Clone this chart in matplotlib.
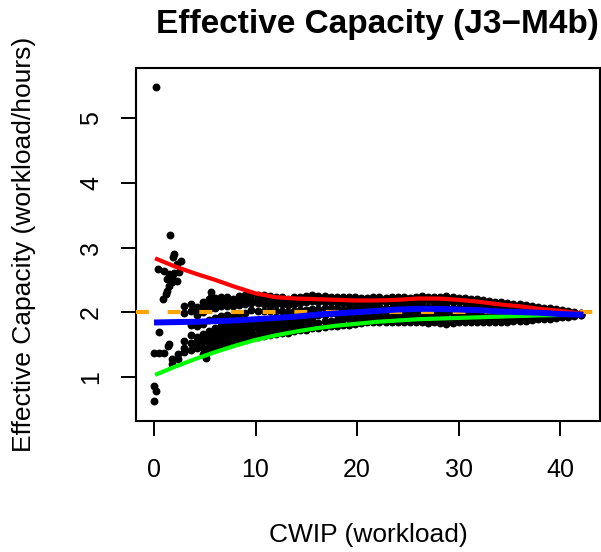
"""
Effective capacity of J3-M4b against CWIP, with the smoothed
upper / mean / lower curves and the nominal capacity line at 2.
"""

import numpy as np
import matplotlib
matplotlib.use("Agg")
import matplotlib.pyplot as plt

nan = np.nan

# ---------------------------------------------------------------------------
# Data
# ---------------------------------------------------------------------------

# sparse points near the start of the run
start_x = [0.2, 1.57, 2.0, 1.9, 2.65, 2.3, 0.36, 1.0, 1.5, 1.8, 2.3, 1.3,
           1.5, 1.8, 1.3, 1.2, 0.85, 2.5, 2.0, 5.6, 5.65, 0.52, 0.03, 0.52,
           1.0, 1.5, 1.4, 0.03, 0.2, 0.03, 5.1, 4.9]
start_y = [5.49, 3.19, 2.90, 2.85, 2.79, 2.74, 2.66, 2.64, 2.59, 2.54, 2.48, 2.51,
           2.41, 2.46, 2.33, 2.28, 2.21, 2.62, 2.60, 2.31, 2.23, 1.69, 1.37, 1.37,
           1.37, 1.50, 1.47, 0.86, 0.78, 0.63, 1.29, 1.33]

# the dense band, sampled along x in six strands (top -> bottom)
band_x = [1.8, 2.4, 3.0, 3.6, 4.2, 4.8, 5.4, 6.0, 6.6, 7.2,
          7.8, 8.4, 9.0, 9.6, 10.2, 10.8, 11.4, 12.0, 12.6, 13.2,
          13.8, 14.4, 15.0, 15.6, 16.2, 16.8, 17.4, 18.0, 18.6, 19.2,
          19.8, 20.4, 21.0, 21.6, 22.2, 22.8, 23.4, 24.0, 24.6, 25.2,
          25.8, 26.4, 27.0, 27.6, 28.2, 28.8, 29.4, 30.0, 30.6, 31.2,
          31.8, 32.4, 33.0, 33.6, 34.2, 34.8, 35.4, 36.0, 36.6, 37.2,
          37.8, 38.4, 39.0, 39.6, 40.2, 40.8, 41.4, 42.0]

band_1 = [nan, nan, 2.10, 2.12, 2.08, 2.15, 2.20, 2.22, 2.24, 2.23,
          2.21, 2.25, 2.27, 2.28, 2.27, 2.26, 2.25, 2.24, 2.23, 2.21,
          2.23, 2.24, 2.25, 2.26, 2.25, 2.25, 2.24, 2.24, 2.23, 2.23,
          2.24, 2.22, 2.22, 2.23, 2.24, 2.22, 2.23, 2.24, 2.23, 2.22,
          2.24, 2.25, 2.24, 2.23, 2.24, 2.25, 2.23, 2.22, 2.22, 2.21,
          2.20, 2.19, 2.17, 2.16, 2.15, 2.14, 2.13, 2.12, 2.11, 2.10,
          2.08, 2.07, 2.06, 2.05, 2.03, 2.02, 2.00, 1.99]
band_2 = [nan, nan, 1.98, 2.02, 1.95, 2.00, 2.05, 2.07, 2.09, 2.09,
          2.09, 2.11, 2.13, 2.14, 2.14, 2.13, 2.10, 2.12, 2.12, 2.11,
          2.12, 2.14, 2.15, 2.17, 2.15, 2.15, 2.15, 2.15, 2.14, 2.14,
          2.15, 2.14, 2.14, 2.15, 2.15, 2.15, 2.15, 2.13, 2.15, 2.15,
          2.16, 2.16, 2.18, 2.16, 2.16, 2.16, 2.15, 2.15, 2.15, 2.14,
          2.13, 2.12, 2.11, 2.10, 2.09, 2.08, 2.08, 2.07, 2.06, 2.06,
          2.04, 2.04, 2.03, 2.02, 2.01, 2.00, 1.99, 1.98]
band_3 = [nan, nan, nan, 1.80, 1.78, 1.82, 1.88, 1.91, 1.94, 1.95,
          1.95, 1.97, 1.99, 2.03, 2.01, 2.01, 2.01, 2.01, 2.01, 2.00,
          2.02, 2.03, 2.04, 2.05, 2.05, 2.06, 2.06, 2.06, 2.03, 2.06,
          2.07, 2.06, 2.07, 2.08, 2.08, 2.07, 2.07, 2.08, 2.07, 2.08,
          2.08, 2.08, 2.08, 2.08, 2.08, 2.10, 2.07, 2.07, 2.07, 2.07,
          2.06, 2.05, 2.04, 2.03, 2.03, 2.02, 2.02, 2.02, 2.01, 2.01,
          2.00, 2.00, 2.00, 1.99, 1.99, 1.98, 1.98, 1.97]
band_4 = [nan, nan, 1.55, 1.65, 1.62, 1.66, 1.70, 1.76, 1.78, 1.80,
          1.82, 1.84, 1.86, 1.87, 1.88, 1.85, 1.89, 1.89, 1.89, 1.90,
          1.91, 1.93, 1.94, 1.95, 1.96, 1.96, 1.99, 1.97, 1.97, 1.97,
          1.98, 1.99, 1.99, 2.00, 1.97, 2.00, 2.00, 2.00, 2.00, 2.00,
          2.01, 2.00, 1.99, 2.00, 1.99, 1.99, 1.99, 2.00, 2.00, 1.99,
          1.98, 1.99, 1.98, 1.97, 1.97, 1.97, 1.97, 1.96, 1.97, 1.97,
          1.97, 1.97, 1.96, 1.97, 1.96, 1.97, 1.96, 1.97]
band_5 = [1.27, 1.35, 1.45, 1.52, 1.50, 1.55, 1.52, 1.60, 1.63, 1.66,
          1.68, 1.70, 1.69, 1.73, 1.75, 1.76, 1.77, 1.78, 1.78, 1.79,
          1.81, 1.82, 1.83, 1.85, 1.83, 1.87, 1.87, 1.88, 1.89, 1.89,
          1.90, 1.91, 1.92, 1.93, 1.93, 1.92, 1.92, 1.92, 1.92, 1.93,
          1.93, 1.92, 1.91, 1.92, 1.91, 1.90, 1.88, 1.92, 1.92, 1.92,
          1.91, 1.92, 1.91, 1.90, 1.91, 1.91, 1.91, 1.91, 1.92, 1.92,
          1.93, 1.93, 1.93, 1.94, 1.94, 1.95, 1.95, 1.96]
band_6 = [1.20, 1.28, 1.38, 1.42, 1.44, 1.35, 1.40, 1.45, 1.48, 1.52,
          1.55, 1.56, 1.58, 1.60, 1.62, 1.63, 1.65, 1.66, 1.67, 1.68,
          1.70, 1.72, 1.73, 1.75, 1.76, 1.77, 1.78, 1.79, 1.80, 1.80,
          1.82, 1.83, 1.84, 1.85, 1.85, 1.85, 1.84, 1.84, 1.84, 1.85,
          1.85, 1.84, 1.83, 1.84, 1.83, 1.82, 1.83, 1.85, 1.85, 1.85,
          1.84, 1.85, 1.85, 1.84, 1.85, 1.85, 1.86, 1.86, 1.87, 1.88,
          1.89, 1.90, 1.90, 1.91, 1.92, 1.93, 1.94, 1.95]

# extra points where the band is widest (x ~ 4 to 16)
wide_x = [4.2, 4.8, 5.4, 6.0, 6.6, 7.2, 7.8, 8.4, 9.0, 9.6,
          10.2, 10.8, 11.4, 12.0, 12.6, 13.2, 13.8, 14.4, 15.0, 15.6]
wide_a = [2.02, 2.08, 2.13, 2.15, 2.17, 2.16, 2.15, 2.18, 2.20, 2.21,
          2.21, 2.20, 2.18, 2.18, 2.18, 2.16, 2.18, 2.19, 2.20, 2.22]
wide_b = [1.56, 1.60, 1.61, 1.68, 1.71, 1.74, 1.75, 1.78, 1.77, 1.80,
          1.82, 1.81, 1.83, 1.84, 1.83, 1.85, 1.86, 1.88, 1.88, 1.90]
wide_c = [1.47, 1.45, 1.46, 1.53, 1.56, 1.59, 1.61, 1.63, 1.64, 1.66,
          1.68, 1.70, 1.71, 1.71, 1.73, 1.74, 1.76, 1.77, 1.78, 1.80]

# smoothed curves
curve_x = [0.3, 2, 4, 6, 8, 10, 12, 14, 16, 18, 20, 22,
           24, 26, 28, 30, 32, 34, 36, 38, 40, 42]
upper_y = [2.82, 2.71, 2.60, 2.50, 2.39, 2.29, 2.23, 2.21, 2.20, 2.19, 2.18, 2.18,
           2.19, 2.21, 2.21, 2.19, 2.16, 2.12, 2.09, 2.05, 2.02, 1.98]
mean_y  = [1.84, 1.845, 1.85, 1.86, 1.87, 1.89, 1.91, 1.93, 1.96, 1.98, 2.00, 2.02,
           2.04, 2.05, 2.05, 2.04, 2.03, 2.01, 2.00, 1.99, 1.97, 1.96]
lower_y = [1.04, 1.15, 1.27, 1.38, 1.48, 1.57, 1.64, 1.70, 1.75, 1.79, 1.82, 1.85,
           1.87, 1.89, 1.90, 1.91, 1.92, 1.93, 1.94, 1.95, 1.955, 1.96]

NOMINAL = 2.0

x_ticks = [0, 10, 20, 30, 40]
y_ticks = [1, 2, 3, 4, 5]

# ---------------------------------------------------------------------------
# Plot
# ---------------------------------------------------------------------------

plt.rcParams["font.family"] = ["Liberation Sans", "DejaVu Sans"]

W, H = 601, 552
fig = plt.figure(figsize=(W / 100, H / 100), dpi=100)
ax = fig.add_axes([136 / W, 1 - 420.7 / H, (600 - 136) / W, (420.7 - 68.3) / H])

DOT = 32
for ys in [band_1, band_2, band_3, band_4, band_5, band_6]:
    ax.scatter(band_x, ys, s=DOT, color="black", linewidths=0, zorder=2)
for ys in [wide_a, wide_b, wide_c]:
    ax.scatter(wide_x, ys, s=DOT, color="black", linewidths=0, zorder=2)
ax.scatter(start_x, start_y, s=DOT, color="black", linewidths=0, zorder=2)

ax.axhline(NOMINAL, color="#FFA500", lw=3, linestyle=(0, (3.1, 4.5)), zorder=3)
ax.plot(curve_x, upper_y, color="#FF0000", lw=3, zorder=4)
ax.plot(curve_x, lower_y, color="#00FF00", lw=3, zorder=4)
ax.plot(curve_x, mean_y, color="#0000FF", lw=4.3, zorder=5)

ax.set_xlim(-1.77, 43.92)
ax.set_ylim(0.319, 5.774)
ax.set_xticks(x_ticks)
ax.set_yticks(y_ticks)
ax.tick_params(axis="both", direction="out", length=10.8, width=1.4,
               labelsize=18)
ax.tick_params(axis="x", pad=16)
ax.tick_params(axis="y", pad=13, labelrotation=90)
for lbl in ax.get_yticklabels():
    lbl.set_va("center")
for sp in ax.spines.values():
    sp.set_linewidth(1.5)

fig.text(377.5 / W, 1 - 33.3 / H, "Effective Capacity (J3\u2212M4b)",
         ha="center", va="baseline", fontsize=24, fontweight="bold")
fig.text(368 / W, 1 - 542 / H, "CWIP (workload)",
         ha="center", va="baseline", fontsize=19)
fig.text(24 / W, 1 - 244.5 / H, "Effective Capacity (workload/hours)",
         ha="center", va="center", rotation=90, fontsize=19)

fig.savefig("out.png", dpi=100)
